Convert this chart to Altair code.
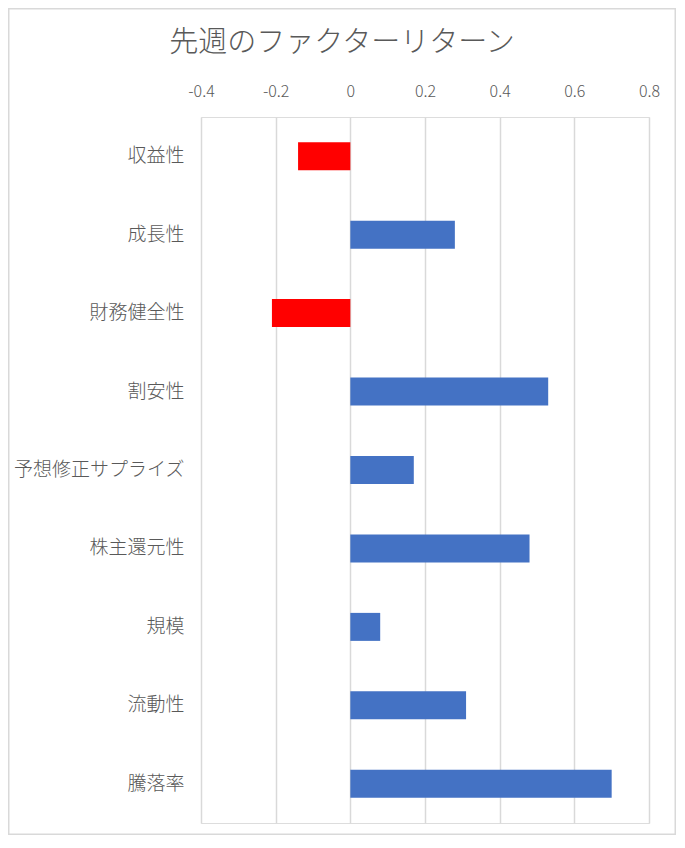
import altair as alt
import pandas as pd

categories = ["収益性", "成長性", "財務健全性", "割安性", "予想修正サプライズ",
              "株主還元性", "規模", "流動性", "騰落率"]
values = [-0.14, 0.28, -0.21, 0.53, 0.17, 0.48, 0.08, 0.31, 0.70]
tick_values = [-0.4, -0.2, 0, 0.2, 0.4, 0.6, 0.8]
title_text = "先週のファクターリターン"

df = pd.DataFrame({"factor": categories, "value": values})

W, H = 448, 706
PL, PT, PR, PB = 193, 109, 27, 12
FONT = "Noto Sans CJK JP"
GRAY = "#595959"

bars = alt.Chart(df).mark_bar(size=28).encode(
    y=alt.Y("factor:N", sort=categories,
            scale=alt.Scale(paddingInner=0.643, paddingOuter=0.3215),
            axis=alt.Axis(title=None, domain=False, ticks=False, tickSize=0,
                          labelPadding=17, labelFontSize=19, labelFont=FONT,
                          labelColor=GRAY, labelFontWeight=300, grid=False)),
    x=alt.X("value:Q",
            scale=alt.Scale(domain=[-0.4, 0.8], nice=False, zero=False),
            axis=alt.Axis(orient="top", values=tick_values, title=None,
                          domain=False, ticks=False, tickSize=0, labelFlush=False,
                          labelPadding=18, labelFontSize=16, labelFont=FONT,
                          labelColor=GRAY, labelFontWeight=300,
                          grid=True, gridColor="#d9d9d9", gridWidth=1.5,
                          labelExpr="datum.value == 0 ? '0' : (datum.value < 0 ? '-' : '') + format(abs(datum.value), '.1f')")),
    x2=alt.datum(0),
    color=alt.condition(alt.datum.value < 0, alt.value("#FF0000"), alt.value("#4472C4")),
)

border = alt.Chart(pd.DataFrame({"a": [0]})).mark_rect(
    fillOpacity=0, stroke="#d9d9d9", strokeWidth=1.5
).encode(
    x=alt.value(-PL + 0.75), x2=alt.value(W + PR - 0.75),
    y=alt.value(-PT + 0.75), y2=alt.value(H + PB - 0.75),
)

chart = alt.layer(bars, border).properties(
    width=W, height=H,
    title=alt.TitleParams(title_text, font=FONT, fontSize=29, fontWeight=300,
                          color=GRAY, anchor="middle", dx=-83, dy=50, offset=0),
    padding={"left": PL, "top": PT, "right": PR, "bottom": PB},
    autosize=alt.AutoSizeParams(type="none"),
).configure_view(stroke=None).configure(background="white")

chart.save("out.html", embed_options={"renderer": "svg", "actions": False})
